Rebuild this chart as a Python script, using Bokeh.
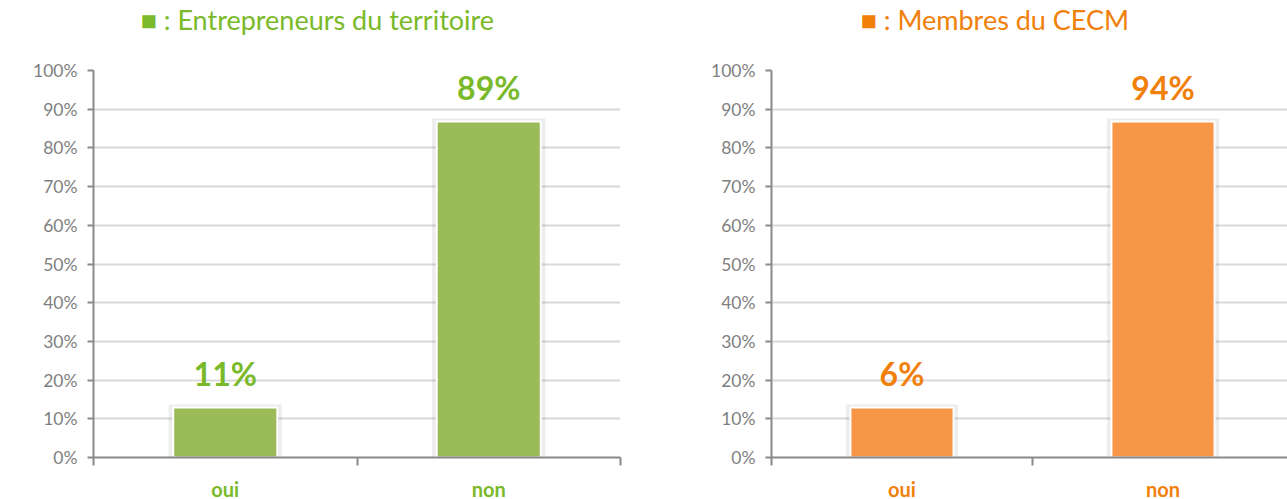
from bokeh.plotting import figure
from bokeh.layouts import row
from bokeh.models import Range1d, FixedTicker, PrintfTickFormatter, Title, ColumnDataSource
from bokeh.core.properties import value
from bokeh.embed import file_html
from bokeh.resources import INLINE

# ---- data ----
categories = ["oui", "non"]
bar_heights = [12.9, 86.8]          # drawn bar heights (% axis)
labels_left = ["11%", "89%"]         # value labels shown, Entrepreneurs du territoire
labels_right = ["6%", "94%"]         # value labels shown, Membres du CECM
y_ticks = [0, 10, 20, 30, 40, 50, 60, 70, 80, 90, 100]
title_left = "\u25a0 : Entrepreneurs du territoire"
title_right = "\u25a0 : Membres du CECM"

FONT = "Lato"
GRID = "#d9d9d9"
AXIS = "#898989"
TICKTXT = "#7f7f7f"


def make_chart(title, value_labels, bar_color, text_color, border_left, border_right,
               frame_w, x_end, title_offset):
    p = figure(frame_width=frame_w, frame_height=387,
               min_border_left=border_left, min_border_right=border_right,
               min_border_top=70, min_border_bottom=30,
               x_range=Range1d(0, x_end), y_range=Range1d(0, 100),
               output_backend="svg", toolbar_location=None,
               background_fill_color="white", border_fill_color="white")
    p.outline_line_color = None
    p.xgrid.grid_line_color = None
    p.ygrid.grid_line_color = GRID
    p.ygrid.grid_line_width = 2
    p.ygrid.ticker = FixedTicker(ticks=y_ticks)

    # y axis
    p.yaxis.ticker = FixedTicker(ticks=y_ticks)
    p.yaxis.formatter = PrintfTickFormatter(format="%d%%")
    p.yaxis.axis_line_color = AXIS
    p.yaxis.axis_line_width = 2
    p.yaxis.major_tick_line_color = AXIS
    p.yaxis.major_tick_line_width = 2
    p.yaxis.major_tick_out = 6
    p.yaxis.major_tick_in = 0
    p.yaxis.minor_tick_line_color = None
    p.yaxis.major_label_text_font = FONT
    p.yaxis.major_label_text_font_size = "17.5px"
    p.yaxis.major_label_text_color = TICKTXT
    p.yaxis.major_label_standoff = 10

    # x axis: labels under bars, tick marks at category boundaries
    xs = [i + 0.5 for i in range(len(categories))]
    p.xaxis.ticker = FixedTicker(ticks=xs, minor_ticks=list(range(len(categories) + 1)))
    p.xaxis.major_label_overrides = {x: c for x, c in zip(xs, categories)}
    p.xaxis.axis_line_color = AXIS
    p.xaxis.axis_line_width = 2
    p.xaxis.major_tick_line_color = None
    p.xaxis.major_tick_out = 0
    p.xaxis.major_tick_in = 0
    p.xaxis.minor_tick_line_color = AXIS
    p.xaxis.minor_tick_line_width = 2
    p.xaxis.minor_tick_out = 8
    p.xaxis.minor_tick_in = 0
    p.xaxis.major_label_text_font = FONT
    p.xaxis.major_label_text_font_style = "bold"
    p.xaxis.major_label_text_font_size = "20px"
    p.xaxis.major_label_text_color = text_color
    p.xaxis.major_label_standoff = 11

    src = ColumnDataSource(dict(x=xs, top=bar_heights, lab=value_labels,
                                stop=[h + 0.8 for h in bar_heights]))
    # soft shadow
    p.vbar(x="x", top="stop", width=0.43, bottom=0, source=src,
           fill_color="#000000", fill_alpha=0.07, line_color=None)
    p.vbar(x="x", top="top", width=0.395, bottom=0, source=src,
           fill_color=bar_color, line_color="white", line_width=2)
    p.text(x="x", y="top", text="lab", source=src, y_offset=-34,
           text_align="center", text_baseline="middle",
           text_font=value(FONT), text_font_style="bold", text_font_size="32px",
           text_color=text_color)

    # blank spacer title (closest to frame) pushes the real title up
    p.add_layout(Title(text=" ", text_font_size="30px", standoff=0), "above")
    p.add_layout(Title(text=title, align="left", offset=title_offset,
                       text_font=FONT, text_font_size="27px",
                       text_font_style="normal", text_color=text_color,
                       standoff=0), "above")
    return p


left = make_chart(title_left, labels_left, "#9bbb59", "#7ab929",
                  93, 20, 527, 2.0, 47)
right = make_chart(title_right, labels_right, "#f79646", "#f0800a",
                   131, 0, 516, 2.0 * 516 / 522, 89)

layout = row(left, right)
open("out.html", "w").write(file_html(layout, INLINE))
